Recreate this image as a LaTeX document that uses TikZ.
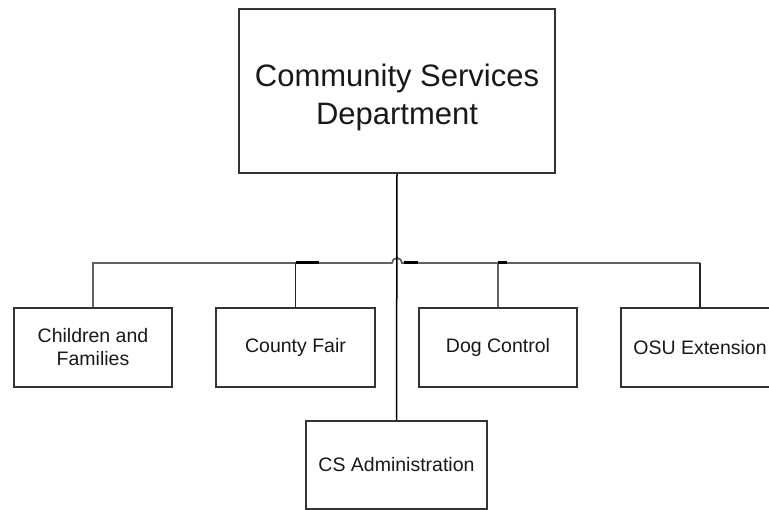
\documentclass[tikz,border=0pt]{standalone}
\usepackage{fontspec}
\setmainfont{Liberation Sans}
\begin{document}
\begin{tikzpicture}[x=1pt,y=1pt,
  orgbox/.style={draw=black!80,line width=1.7pt,fill=white,inner sep=0pt,align=center,text=black!90},
  bigtext/.style={font=\fontsize{31}{38}\selectfont,align=center,text=black!90,inner sep=0pt},
  smalltext/.style={font=\fontsize{19.5}{23}\selectfont},
  busline/.style={draw=black!62,line width=1.8pt},
  dropline/.style={draw=black!85,line width=1.6pt},
  vline/.style={draw=black,line width=1.5pt},
  joint/.style={draw=black,line width=3pt}]
\useasboundingbox (0,0) rectangle (769,510);
\clip (0,0) rectangle (769,510);
% boxes
\node[orgbox,minimum width=316,minimum height=164] (top) at (397,419) {};
\node[bigtext] (toptext) at ([yshift=-6]top.center) {Community Services\\Department};
\node[orgbox,smalltext,minimum width=158,minimum height=79] (ch) at (93,162.5) {Children and\\Families};
\node[orgbox,smalltext,minimum width=159,minimum height=79] (cf) at (295.5,162.5) {County Fair};
\node[orgbox,smalltext,minimum width=158,minimum height=79] (dc) at (498,162.5) {Dog Control};
\node[orgbox,smalltext,minimum width=158,minimum height=79] (osu) at (700,162.5) {OSU Extension};
\node[orgbox,smalltext,minimum width=181,minimum height=88] (cs) at (396.5,45) {CS Administration};
% bus coordinates
\coordinate (busY) at (0,247);
\coordinate (hopL) at (392,247);
\coordinate (hopR) at (402,247);
% bus with hop over the main line
\draw[busline] (ch.north) -- (ch.north |- busY) -- (hopL) arc[start angle=180,end angle=0,radius=5] -- (osu.north |- busY);
\draw[dropline] (osu.north |- busY) -- (osu.north);
\draw[dropline] (cf.north |- busY) -- (cf.north);
\draw[busline] (dc.north |- busY) -- (dc.north);
% short dark joints
\draw[joint] (cf.north |- busY) -- ++(23,0);
\draw[joint] (hopR) ++(2,0) -- ++(14,0);
\draw[joint] (dc.north |- busY) -- ++(9,0);
% main vertical line
\draw[vline] (top.south) -- (cs.north);
\end{tikzpicture}
\end{document}
